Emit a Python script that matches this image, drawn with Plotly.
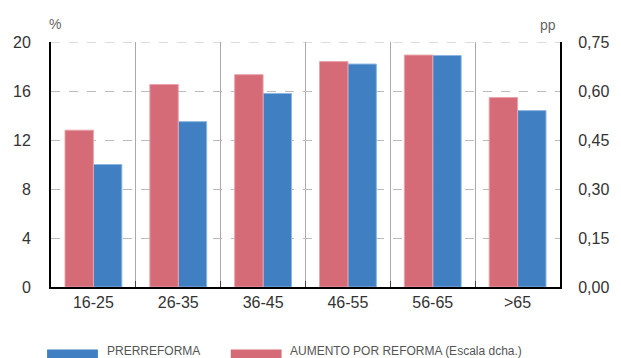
import plotly.graph_objects as go

# Age groups and series values
age_groups = ["16-25", "26-35", "36-45", "46-55", "56-65", ">65"]
prerreforma = [10.0, 13.5, 15.8, 18.2, 18.9, 14.4]          # % (left axis)
aumento_reforma = [0.48, 0.62, 0.65, 0.69, 0.71, 0.58]     # pp (right axis)

left_ticks = [0, 4, 8, 12, 16, 20]
right_ticks = [0, 0.15, 0.30, 0.45, 0.60, 0.75]

RED = "#D56B77"
BLUE = "#3F7FC2"
FONT = "Liberation Sans"

fig = go.Figure()
fig.add_trace(go.Bar(
    x=age_groups, y=aumento_reforma, name="AUMENTO POR REFORMA (Escala dcha.)",
    marker=dict(color=RED, line=dict(color="#E8A3AB", width=1)),
    yaxis="y2", offsetgroup="reforma", showlegend=False,
))
fig.add_trace(go.Bar(
    x=age_groups, y=prerreforma, name="PRERREFORMA",
    marker=dict(color=BLUE, line=dict(color="#8DB5E0", width=1)),
    yaxis="y", offsetgroup="pre", showlegend=False,
))

W, H = 621, 358
L, R, T, B = 51, 49, 42, 71
pw, ph = W - L - R, H - T - B


def px_x(x):
    return (x - L) / pw


def px_y(y):
    return (H - B - y) / ph


shapes = [
    # top dashed gridline at the upper end of the scale
    dict(type="line", xref="paper", yref="y", x0=0, x1=1, y0=left_ticks[-1], y1=left_ticks[-1],
         line=dict(color="#BBBBBB", width=1, dash="dash"), layer="below"),
    # legend swatches
    dict(type="rect", xref="paper", yref="paper",
         x0=px_x(47), x1=px_x(99), y0=px_y(349.5), y1=px_y(362),
         fillcolor=BLUE, line=dict(width=0)),
    dict(type="rect", xref="paper", yref="paper",
         x0=px_x(235), x1=px_x(287), y0=px_y(349.5), y1=px_y(362),
         fillcolor=RED, line=dict(width=0)),
]

annotations = [
    dict(text="PRERREFORMA", x=px_x(106), y=px_y(350.5), xref="paper", yref="paper",
         xanchor="left", yanchor="middle", showarrow=False,
         font=dict(family=FONT, size=12, color="#555")),
    dict(text="AUMENTO POR REFORMA (Escala dcha.)", x=px_x(294), y=px_y(350.5),
         xref="paper", yref="paper", xanchor="left", yanchor="middle", showarrow=False,
         font=dict(family=FONT, size=12, color="#555")),
    dict(text="%", x=px_x(55), y=px_y(24), xref="paper", yref="paper",
         xanchor="center", yanchor="middle", showarrow=False,
         font=dict(family=FONT, size=14, color="#666")),
    dict(text="pp", x=px_x(560), y=px_y(25), xref="paper", yref="paper",
         xanchor="center", yanchor="middle", showarrow=False,
         font=dict(family=FONT, size=14, color="#666")),
]

fig.update_layout(
    width=W, height=H,
    margin=dict(l=L, r=R, t=T, b=B, pad=0),
    paper_bgcolor="white", plot_bgcolor="white",
    barmode="group", bargap=0.33, bargroupgap=0,
    separators=",.",
    font=dict(family=FONT, size=16, color="#333"),
    shapes=shapes, annotations=annotations,
    xaxis=dict(
        type="category", tickson="boundaries",
        showgrid=True, gridcolor="#AAAAAA", gridwidth=1,
        showline=True, linecolor="black", linewidth=2,
        ticks="inside", ticklen=6, tickcolor="#444", tickwidth=1,
        tickfont=dict(size=16, color="#333"),
        zeroline=False, mirror=False,
    ),
    yaxis=dict(
        range=[0, 20], tickvals=left_ticks,
        showgrid=True, gridcolor="#BBBBBB", griddash="dash", gridwidth=1,
        showline=True, linecolor="black", linewidth=2,
        ticks="", ticklabelstandoff=15,
        tickfont=dict(size=16, color="#333"),
        zeroline=False,
    ),
    yaxis2=dict(
        range=[0, 0.75], tickvals=right_ticks, tickformat=".2f",
        overlaying="y", side="right",
        showgrid=False,
        showline=True, linecolor="black", linewidth=2,
        ticks="", ticklabelstandoff=13,
        tickfont=dict(size=16, color="#333"),
        zeroline=False,
    ),
)

fig.write_html("out.html")
